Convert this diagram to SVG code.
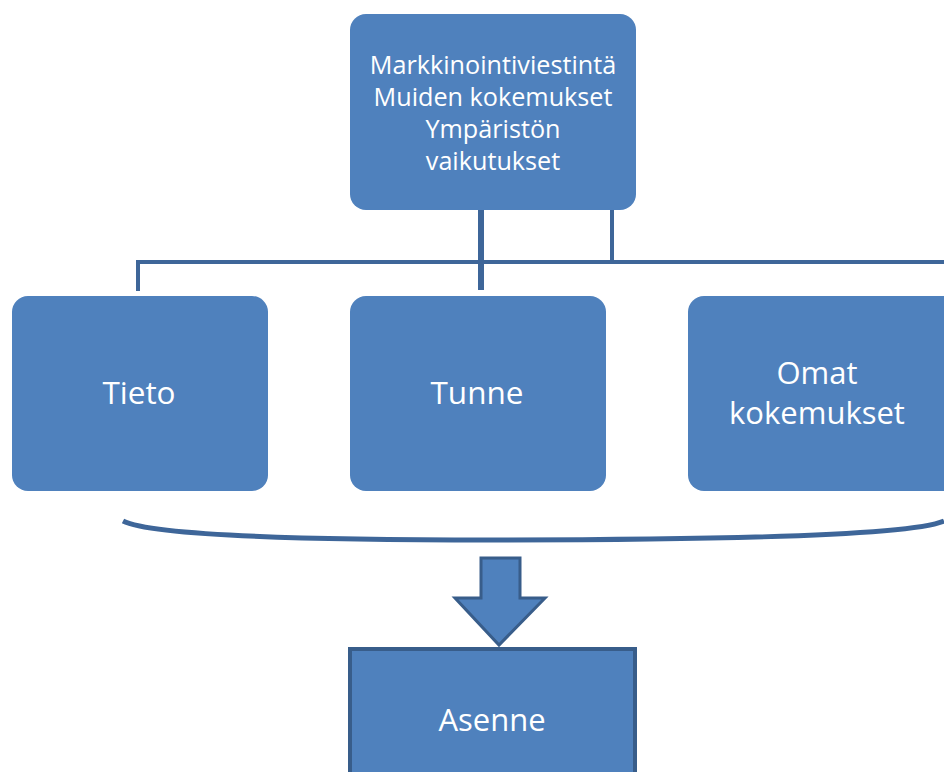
<svg xmlns="http://www.w3.org/2000/svg" width="944" height="772" viewBox="0 0 944 772">
<style>
.box{fill:#4f81bd}
.t{fill:#fff;font-family:"Open Sans","Liberation Sans",sans-serif;text-anchor:middle}
.c{stroke:#3e6699;fill:none;stroke-linecap:butt}
</style>
<rect width="944" height="772" fill="#fff"/>
<g id="connectors">
<path class="c" d="M138 291 V262 H944" stroke-width="4"/>
<path class="c" d="M481 210 V290" stroke-width="6"/>
<path class="c" d="M612 210 V262" stroke-width="4"/>
<path class="c" d="M123 521 Q160 540 490 540 Q900 540 944 521" stroke-width="5" stroke-linecap="round"/>
<path d="M481 558 H520 V598 H545 L499 645 L455 598 H481 Z" fill="#4f81bd" stroke="#385d8a" stroke-width="3" stroke-linejoin="miter"/>
</g>
<g id="top">
<rect class="box" x="350" y="14" width="286" height="196" rx="16"/>
<text class="t" font-size="25.2"><tspan x="493" y="74">Markkinointiviestintä</tspan><tspan x="493" y="106">Muiden kokemukset</tspan><tspan x="493" y="138">Ympäristön</tspan><tspan x="493" y="170">vaikutukset</tspan></text>
</g>
<g id="tieto">
<rect class="box" x="12" y="296" width="256" height="195" rx="16"/>
<text class="t" font-size="31.5" x="139" y="404">Tieto</text>
</g>
<g id="tunne">
<rect class="box" x="350" y="296" width="256" height="195" rx="16"/>
<text class="t" font-size="31.5" x="477" y="404">Tunne</text>
</g>
<g id="omat">
<rect class="box" x="688" y="296" width="270" height="195" rx="16"/>
<text class="t" font-size="31"><tspan x="817" y="384">Omat</tspan><tspan x="817" y="424">kokemukset</tspan></text>
</g>
<g id="asenne">
<rect x="350" y="649" width="285" height="140" fill="#4f81bd" stroke="#385d8a" stroke-width="4"/>
<text class="t" font-size="31" x="492" y="731">Asenne</text>
</g>
</svg>
